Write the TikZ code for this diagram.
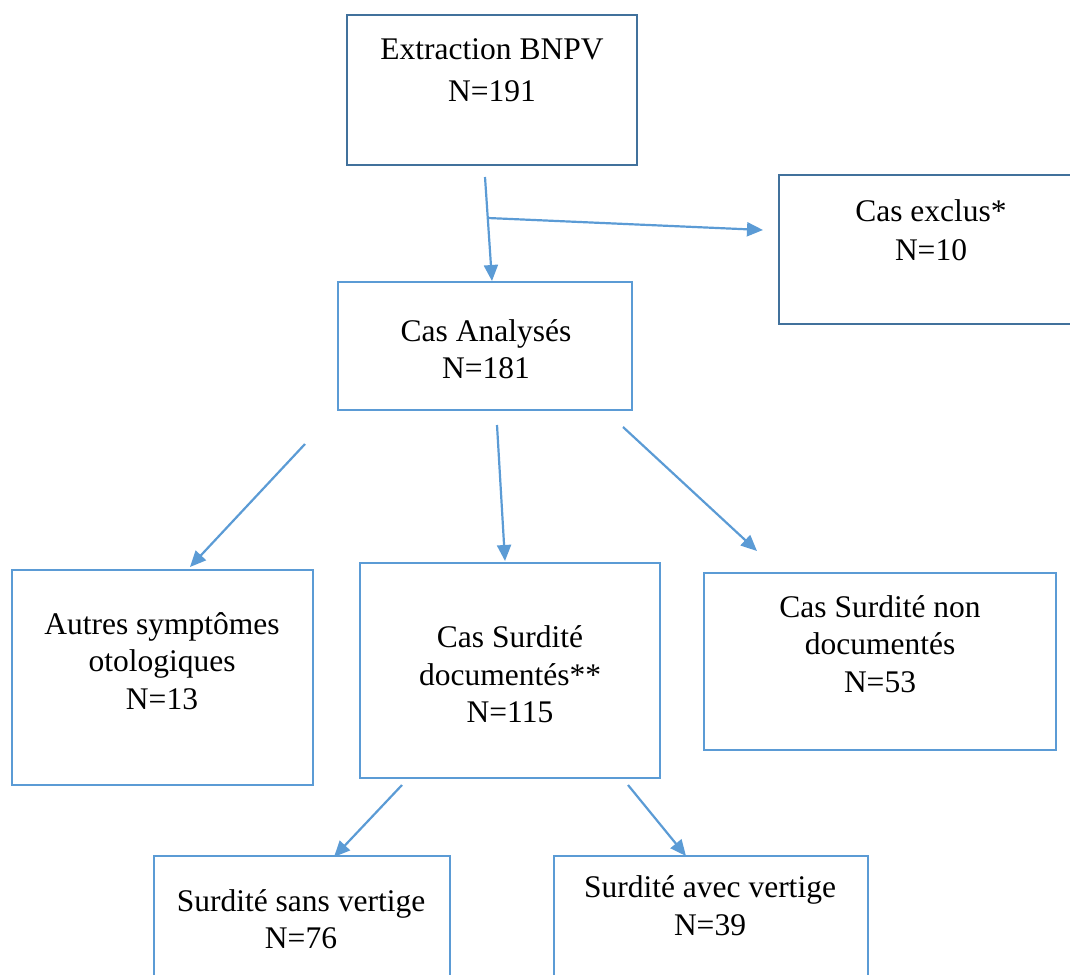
\documentclass[tikz,border=0pt]{standalone}
\usepackage{fontspec}
\setmainfont{Liberation Serif}
\usetikzlibrary{arrows.meta}
\definecolor{darkbl}{HTML}{41719C}
\definecolor{lightbl}{HTML}{5B9BD5}
\tikzset{
  boxd/.style={draw=darkbl, line width=2.6pt, rectangle, inner sep=0pt},
  boxl/.style={draw=lightbl, line width=2.6pt, rectangle, inner sep=0pt},
  txt/.style={align=center, inner sep=0pt, font=\fontsize{31.5}{37.5}\selectfont},
  arr/.style={draw=lightbl, line width=2.2pt, -{Triangle[length=16pt,width=14pt]}},
}
\begin{document}
\begin{tikzpicture}[x=1pt,y=-1pt]
\useasboundingbox (0,0) rectangle (1070,974);
% boxes
\node[boxd, minimum width=290pt, minimum height=150pt] (ext) at (492,90) {};
\node[boxd, minimum width=310pt, minimum height=149pt] (excl) at (934,249.5) {};
\node[boxl, minimum width=294pt, minimum height=128pt] (ana) at (485,346) {};
\node[boxl, minimum width=301pt, minimum height=215pt] (aut) at (162.5,677.5) {};
\node[boxl, minimum width=300pt, minimum height=215pt] (doc) at (510,670.5) {};
\node[boxl, minimum width=352pt, minimum height=177pt] (non) at (880,661.5) {};
\node[boxl, minimum width=296pt, minimum height=140pt] (sans) at (302,926) {};
\node[boxl, minimum width=314pt, minimum height=140pt] (avec) at (711,926) {};
% texts
\node[txt] (text) at (492,70) {Extraction BNPV\\[5pt]N=191};
\node[txt] (texcl) at (931,230) {Cas exclus*\\[2pt]N=10};
\node[txt] (tana) at (486,349) {Cas Analysés\\N=181};
\node[txt] (taut) at (162,661) {Autres symptômes\\otologiques\\N=13};
\node[txt] (tdoc) at (510,674.5) {Cas Surdité\\documentés**\\N=115};
\node[txt] (tnon) at (880,644) {Cas Surdité non\\documentés\\N=53};
\node[txt] (tsans) at (301,919) {Surdité sans vertige\\N=76};
\node[txt] (tavec) at (710,905.5) {Surdité avec vertige\\N=39};
% connector endpoints
\coordinate (a1s) at (485,177);
\coordinate (a1e) at (492,281);
\coordinate (a2s) at (488,218);
\coordinate (a2e) at (763,230);
\coordinate (b1s) at (305,444);
\coordinate (b1e) at (190,567);
\coordinate (b2s) at (497,425);
\coordinate (b2e) at (505,561);
\coordinate (b3s) at (623,427);
\coordinate (b3e) at (757,551);
\coordinate (c1s) at (402,785);
\coordinate (c1e) at (334,857);
\coordinate (c2s) at (628,785);
\coordinate (c2e) at (686,856);
% connectors
\draw[arr] (a1s) -- (a1e);
\draw[arr] (a2s) -- (a2e);
\draw[arr] (b1s) -- (b1e);
\draw[arr] (b2s) -- (b2e);
\draw[arr] (b3s) -- (b3e);
\draw[arr] (c1s) -- (c1e);
\draw[arr] (c2s) -- (c2e);
\end{tikzpicture}
\end{document}
